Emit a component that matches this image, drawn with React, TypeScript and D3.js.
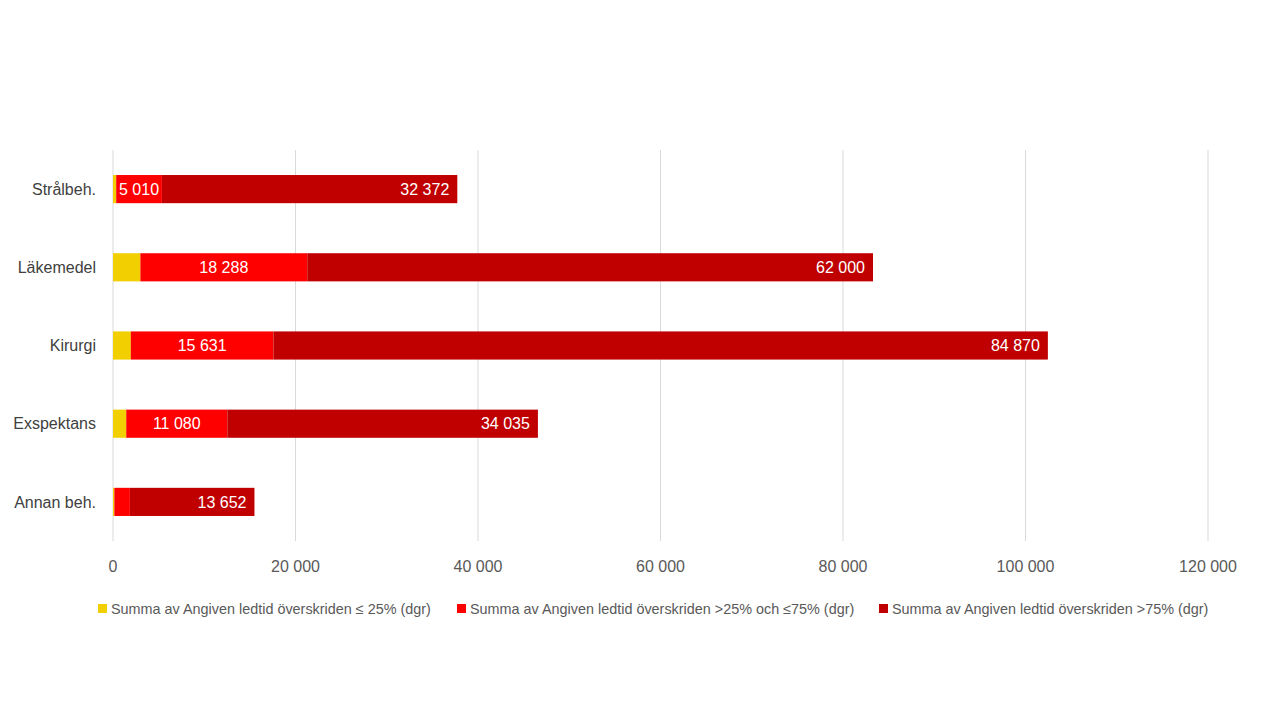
import React from "react";
import * as d3 from "d3";

const categories = ["Strålbeh.", "Läkemedel", "Kirurgi", "Exspektans", "Annan beh."];
const lowValues = [350, 3000, 1950, 1450, 150];
const midValues = [5010, 18288, 15631, 11080, 1700];
const highValues = [32372, 62000, 84870, 34035, 13652];
const showMidLabel = [true, true, true, true, false];
const xTicks = [0, 20000, 40000, 60000, 80000, 100000, 120000];
const seriesNames = [
  "Summa av Angiven ledtid överskriden ≤ 25% (dgr)",
  "Summa av Angiven ledtid överskriden >25% och ≤75% (dgr)",
  "Summa av Angiven ledtid överskriden >75% (dgr)",
];
const colors = ["#F2CF00", "#FF0000", "#C00000"];

const W = 1280;
const H = 720;
const FONT = "'Liberation Sans', Arial, sans-serif";

const fmt = (v: number) => d3.format(",")(v).replace(/,/g, " ");

export default function App() {
  const x = d3.scaleLinear().domain([0, 120000]).range([113, 1208]);
  const y = d3.scaleBand<string>().domain(categories).range([150, 541]).paddingInner(0.64).paddingOuter(0.32);

  const rows = categories.map((c, i) => ({
    c,
    segs: [lowValues[i], midValues[i], highValues[i]],
  }));

  const legendX = [98, 457, 879];

  return (
    <svg width={W} height={H} style={{ position: "absolute", left: 0, top: 0, background: "#fff" }} fontFamily={FONT}>
      <rect width={W} height={H} fill="#fff" />
      {xTicks.map((t) => (
        <g key={t}>
          <line x1={x(t)} x2={x(t)} y1={150} y2={541} stroke="#D9D9D9" strokeWidth={1} />
          <text x={x(t)} y={572} textAnchor="middle" fontSize={16} fill="#595959">
            {fmt(t)}
          </text>
        </g>
      ))}
      {rows.map((r, i) => {
        const y0 = y(r.c)!;
        const bh = y.bandwidth();
        let acc = 0;
        return (
          <g key={r.c}>
            <text x={96} y={y0 + bh / 2} dy="0.35em" textAnchor="end" fontSize={16} fill="#404040">
              {r.c}
            </text>
            {r.segs.map((v, j) => {
              const s = acc;
              acc += v;
              const x0 = x(s);
              const x1 = x(acc);
              return (
                <rect key={j} x={x0} y={y0} width={x1 - x0} height={bh} fill={colors[j]} />
              );
            })}
            {showMidLabel[i] && (
              <text
                x={(x(r.segs[0]) + x(r.segs[0] + r.segs[1])) / 2}
                y={y0 + bh / 2}
                dy="0.35em"
                textAnchor="middle"
                fontSize={16}
                fill="#fff"
              >
                {fmt(r.segs[1])}
              </text>
            )}
            <text x={x(acc) - 8} y={y0 + bh / 2} dy="0.35em" textAnchor="end" fontSize={16} fill="#fff">
              {fmt(r.segs[2])}
            </text>
          </g>
        );
      })}
      {seriesNames.map((n, k) => (
        <g key={n}>
          <rect x={legendX[k]} y={604} width={9} height={9} fill={colors[k]} />
          <text x={legendX[k] + 13} y={609} dy="0.35em" fontSize={14.4} fill="#595959">
            {n}
          </text>
        </g>
      ))}
    </svg>
  );
}
